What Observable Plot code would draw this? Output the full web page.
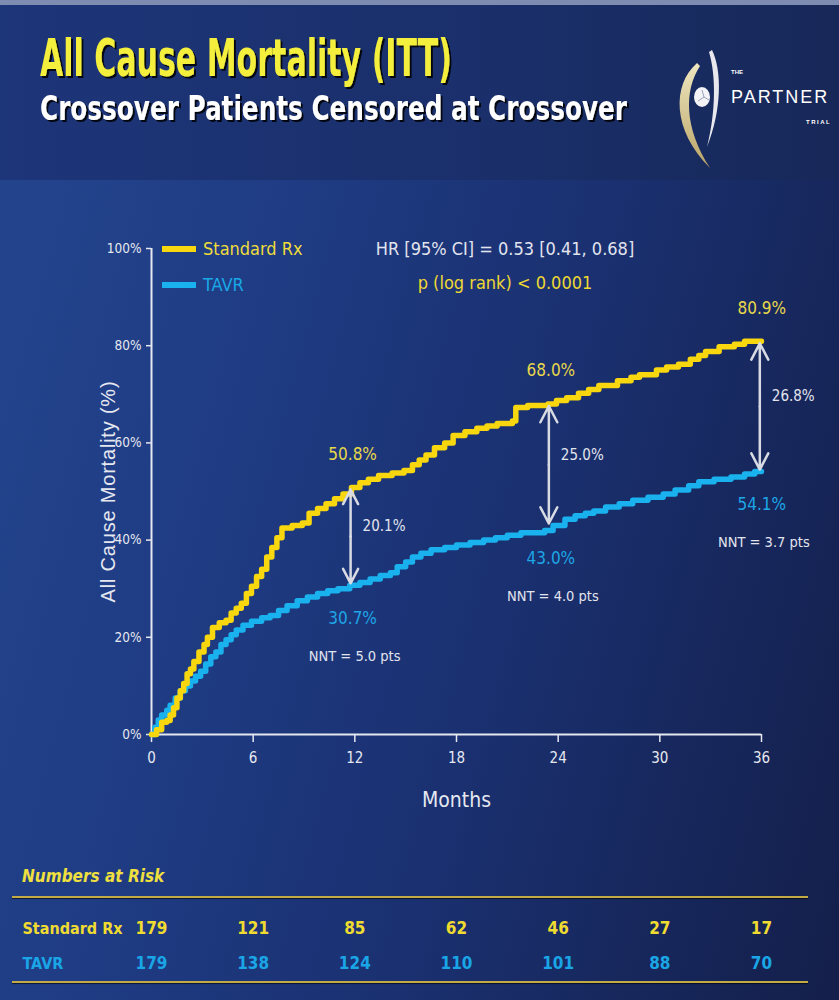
<!DOCTYPE html>
<html>
<head>
<meta charset="utf-8">
<script src="https://cdn.jsdelivr.net/npm/d3@7"></script>
<script src="https://cdn.jsdelivr.net/npm/@observablehq/plot@0.6"></script>
<style>
html, body { margin: 0; padding: 0; }
body {
  width: 839px; height: 1000px; overflow: hidden; position: relative;
  background: linear-gradient(105deg, #24468f 0%, #1f3c84 30%, #1a3070 60%, #141f4a 100%);
  font-family: "Liberation Sans Narrow", "Arial Narrow", "DejaVu Sans Condensed", sans-serif;
}
#header { position: absolute; left: 0; top: 0; }
#chart { position: absolute; left: 0; top: 180px; }
#table { position: absolute; left: 0; top: 840px; }
.abs { position: absolute; white-space: nowrap; }
#chart svg, #table svg { overflow: visible; }
g[aria-label="x-axis label"] text { font-size: 21px; }
g[aria-label="y-axis label"] text { font-size: 20px; font-family: "Liberation Sans", Arial, sans-serif; letter-spacing: 0.8px; }
.rule { position: absolute; left: 12px; width: 796px; height: 2px; background: #c2ab45; box-shadow: 0 1px 1px rgba(0,0,0,0.6); }
</style>
</head>
<body>
<svg id="header" width="839" height="180" xmlns="http://www.w3.org/2000/svg">
  <defs>
    <linearGradient id="hg" x1="0" x2="1" y1="0" y2="0">
      <stop offset="0" stop-color="#1d3579"/>
      <stop offset="0.6" stop-color="#1a2f6a"/>
      <stop offset="1" stop-color="#172858"/>
    </linearGradient>
    <linearGradient id="gold" x1="0" x2="0" y1="0" y2="1">
      <stop offset="0" stop-color="#efe6c0"/>
      <stop offset="1" stop-color="#b9a566"/>
    </linearGradient>
    <filter id="shadow" x="-5%" y="-20%" width="110%" height="140%">
      <feDropShadow dx="2" dy="2" stdDeviation="0.6" flood-color="#000" flood-opacity="0.85"/>
    </filter>
  </defs>
  <rect x="0" y="0" width="839" height="180" fill="url(#hg)"/>
  <rect x="0" y="0" width="839" height="5" fill="#7d8cb0"/>
  <g font-family="Liberation Sans Narrow, Arial Narrow, DejaVu Sans Condensed, sans-serif" font-weight="bold" filter="url(#shadow)">
    <text x="40" y="76" font-size="52" textLength="412" lengthAdjust="spacingAndGlyphs" fill="#f4ee3c">All Cause Mortality (ITT)</text>
    <text x="40" y="120" font-size="34" textLength="587" lengthAdjust="spacingAndGlyphs" fill="#ffffff">Crossover Patients Censored at Crossover</text>
  </g>
  <!-- logo -->
  <path d="M 697 63 C 672 85, 672 130, 710 168 C 684 128, 684 90, 700 66 Z" fill="url(#gold)"/>
  <path d="M 712 50 C 722 70, 722 110, 707 147 C 716 112, 716 75, 709 52 Z" fill="#e8e8ee"/>
  <ellipse cx="702" cy="97" rx="8" ry="10" fill="#f4f4f8"/>
  <path d="M 702 90 L 704 97 L 709 100 M 704 97 L 698 101" stroke="#9aa0b8" stroke-width="1" fill="none"/>
  <text x="731" y="74" font-family="Liberation Sans, Arial, sans-serif" font-size="6" font-weight="bold" fill="#ffffff">THE</text>
  <text x="731" y="103" font-family="Liberation Sans, Arial, sans-serif" font-size="18" letter-spacing="2" fill="#ffffff">PARTNER</text>
  <text x="806" y="124" font-family="Liberation Sans, Arial, sans-serif" font-size="6" font-weight="bold" letter-spacing="1.5" fill="#ffffff">TRIAL</text>
</svg>

<div id="chart"></div>
<div id="table"></div>

<div class="abs" style="left:162px; top:246px; width:34px; height:6px; background:#f8d70f;"></div>
<div class="abs" style="left:203px; top:238px; font-size:18px; color:#efdc3a;">Standard Rx</div>
<div class="abs" style="left:162px; top:282px; width:34px; height:6px; background:#19b2ee;"></div>
<div class="abs" style="left:203px; top:274px; font-size:18px; color:#19a8e6;">TAVR</div>
<div class="abs" style="left:305px; width:400px; text-align:center; top:238px; font-size:18px; color:#e2e4ee;">HR [95% CI] = 0.53 [0.41, 0.68]</div>
<div class="abs" style="left:305px; width:400px; text-align:center; top:272px; font-size:18px; color:#efd832;">p (log rank) &lt; 0.0001</div>

<div class="abs" style="left:22px; top:866px; font-size:17px; font-weight:bold; font-style:italic; color:#efe040;">Numbers at Risk</div>
<div class="rule" style="top:896px;"></div>
<div class="rule" style="top:981px;"></div>

<script>
// ---- Kaplan–Meier curves (months, cumulative mortality %) ----
const stdMonths = [0,0.3,0.6,0.9,1.1,1.3,1.5,1.7,1.9,2.1,2.3,2.5,2.8,3.1,3.3,3.6,4.0,4.4,4.7,5.0,5.3,5.6,5.9,6.2,6.5,6.8,7.1,7.4,7.7,8.3,8.9,9.3,9.8,10.3,10.8,11.3,11.8,12.3,12.8,13.4,14.2,14.9,15.4,15.8,16.2,16.7,17.3,17.8,18.5,19.2,19.8,20.4,21.3,21.5,22.2,23.4,23.9,24.5,25.2,25.8,26.4,27.5,28.3,28.8,29.8,30.4,31.1,31.8,32.3,32.7,33.5,34.4,35.0,36];
const stdPct    = [0,1,2.5,2.9,4,5.5,7.5,9,10.5,12.5,13.5,15,17,18.5,20,22,23,23.5,25,26,27,29,30.5,32.5,34,36.5,38.5,40.5,42.5,43,43.5,45.5,46.5,47.5,48.5,49.5,50.8,51.8,52.5,53.3,53.8,54.3,55.5,56.5,57.5,59,60,61.5,62.3,63,63.5,64,64.5,67.3,67.7,68,68.7,69.3,70.2,71,71.8,72.8,73.5,74,75,75.6,76.2,77.2,78,78.8,79.8,80.3,80.9,80.9];

const tavrMonths = [0,0.2,0.4,0.6,0.9,1.1,1.4,1.7,2.0,2.3,2.6,2.9,3.2,3.5,3.8,4.1,4.4,4.7,5.0,5.4,5.9,6.5,7.0,7.5,8.0,8.6,9.2,9.8,10.4,11.0,11.7,12.3,12.9,13.5,14.1,14.5,15.0,15.4,15.9,16.5,17.3,18.0,18.8,19.6,20.3,21.0,21.8,23.2,23.7,24.4,25.0,25.6,26.1,26.8,27.6,28.4,29.3,30.2,30.9,31.7,32.3,33.2,34.2,35.0,35.6,36];
const tavrPct    = [0,1.5,3,4,5,6,7.5,9,10,11,12,13,14.5,16,17,18.5,19.5,20.5,21.5,22.5,23.3,24,24.5,25.5,26.5,27.5,28.3,29,29.6,30,30.7,31.3,32,32.7,33.3,34.5,35.5,36.5,37.3,38,38.5,39,39.5,40,40.5,41,41.5,42,43,44.3,45,45.5,46,46.8,47.5,48.2,48.8,49.5,50.3,51.2,52,52.5,53,53.6,54.1,54.1];

// ---- landmark annotations ----
const markMonths = [11.75, 23.45, 35.9];
const markStd    = [50.8, 68.0, 80.9];
const markTavr   = [30.7, 43.0, 54.1];
const markDiff   = ["20.1%", "25.0%", "26.8%"];
const markNNT    = ["NNT = 5.0 pts", "NNT = 4.0 pts", "NNT = 3.7 pts"];

// ---- axes ----
const xTicks = [0, 6, 12, 18, 24, 30, 36];
const yTicks = [0, 20, 40, 60, 80, 100];

// ---- numbers at risk ----
const riskMonths = [0, 6, 12, 18, 24, 30, 36];
const riskStd    = [179, 121, 85, 62, 46, 27, 17];
const riskTavr   = [179, 138, 124, 110, 101, 88, 70];
const riskGroups = ["Standard Rx", "TAVR"];

const YELLOW = "#f8d70f", BLUE = "#19b2ee";
const FONT = '"Liberation Sans Narrow", "Arial Narrow", "DejaVu Sans Condensed", sans-serif';

const std = stdMonths.map((m, i) => ({m, v: stdPct[i]}));
const tavr = tavrMonths.map((m, i) => ({m, v: tavrPct[i]}));
const marks = markMonths.map((m, i) => ({m, hi: markStd[i], lo: markTavr[i], mid: (markStd[i] + markTavr[i]) / 2,
  hiLabel: markStd[i].toFixed(1) + "%", loLabel: markTavr[i].toFixed(1) + "%", diff: markDiff[i], nnt: markNNT[i]}));

const chart = Plot.plot({
  width: 839, height: 660,
  marginLeft: 151, marginRight: 78, marginTop: 68, marginBottom: 106,
  style: {background: "transparent", color: "#e6e8f0", fontFamily: FONT, fontSize: "15px"},
  x: {domain: [0, 36]},
  y: {domain: [0, 100]},
  marks: [
    Plot.axisX({ticks: xTicks, tickSize: 8, tickPadding: 10, label: "Months", labelAnchor: "center", labelArrow: "none", labelOffset: 72, stroke: "#e6e8f0", strokeWidth: 1.5}),
    Plot.axisY({ticks: yTicks, tickFormat: d => d + "%", tickSize: 5, tickPadding: 5, fontSize: 13.5, label: "All Cause Mortality (%)", labelAnchor: "center", labelArrow: "none", labelOffset: 51, stroke: "#e6e8f0", strokeWidth: 1.5}),
    Plot.ruleY([0], {stroke: "#e6e8f0", strokeWidth: 2}),
    Plot.ruleX([0], {stroke: "#e6e8f0", strokeWidth: 2}),
    Plot.line(tavr, {x: "m", y: "v", curve: "step-after", stroke: BLUE, strokeWidth: 5.5}),
    Plot.line(std, {x: "m", y: "v", curve: "step-after", stroke: YELLOW, strokeWidth: 5.5}),
    Plot.arrow(marks, {x1: "m", x2: "m", y1: "mid", y2: "hi", stroke: "#d9dbe4", strokeWidth: 2.5, headLength: 11, headAngle: 55, insetEnd: 2}),
    Plot.arrow(marks, {x1: "m", x2: "m", y1: "mid", y2: "lo", stroke: "#d9dbe4", strokeWidth: 2.5, headLength: 11, headAngle: 55, insetEnd: 2}),
    Plot.text(marks, {x: "m", y: "hi", text: "hiLabel", dy: -33, dx: 2, fill: "#e8d84a", fontSize: 17}),
    Plot.text(marks, {x: "m", y: "lo", text: "loLabel", dy: 33, dx: 2, fill: "#1ea6e6", fontSize: 17}),
    Plot.text(marks, {x: "m", y: "lo", text: "nnt", dy: 71, dx: 4, fill: "#e2e4ee", fontSize: 14.5}),
    Plot.text(marks, {x: "m", y: "mid", text: "diff", dy: -10, dx: 12, textAnchor: "start", fill: "#e2e4ee", fontSize: 15})
  ]
});
document.getElementById("chart").appendChild(chart);

const risk = [];
riskMonths.forEach((m, i) => {
  risk.push({m, g: "Standard Rx", n: riskStd[i]});
  risk.push({m, g: "TAVR", n: riskTavr[i]});
});

const table = Plot.plot({
  width: 839, height: 160,
  marginLeft: 0, marginRight: 0, marginTop: 0, marginBottom: 0,
  style: {background: "transparent", fontFamily: FONT, fontSize: "17px", fontWeight: "bold"},
  x: {domain: [0, 36], range: [151, 761], axis: null},
  y: {type: "point", domain: riskGroups, range: [88, 123], padding: 0, axis: null},
  color: {domain: riskGroups, range: ["#f0dc30", "#1aa6e6"]},
  marks: [
    Plot.text(risk, {x: "m", y: "g", text: d => String(d.n), fill: "g", fontWeight: "bold"}),
    Plot.text(riskGroups, {y: d => d, text: d => d, frameAnchor: "left", textAnchor: "start", dx: 22, fill: d => d, fontWeight: "bold", fontSize: 16})
  ]
});
document.getElementById("table").appendChild(table);
</script>
</body>
</html>
